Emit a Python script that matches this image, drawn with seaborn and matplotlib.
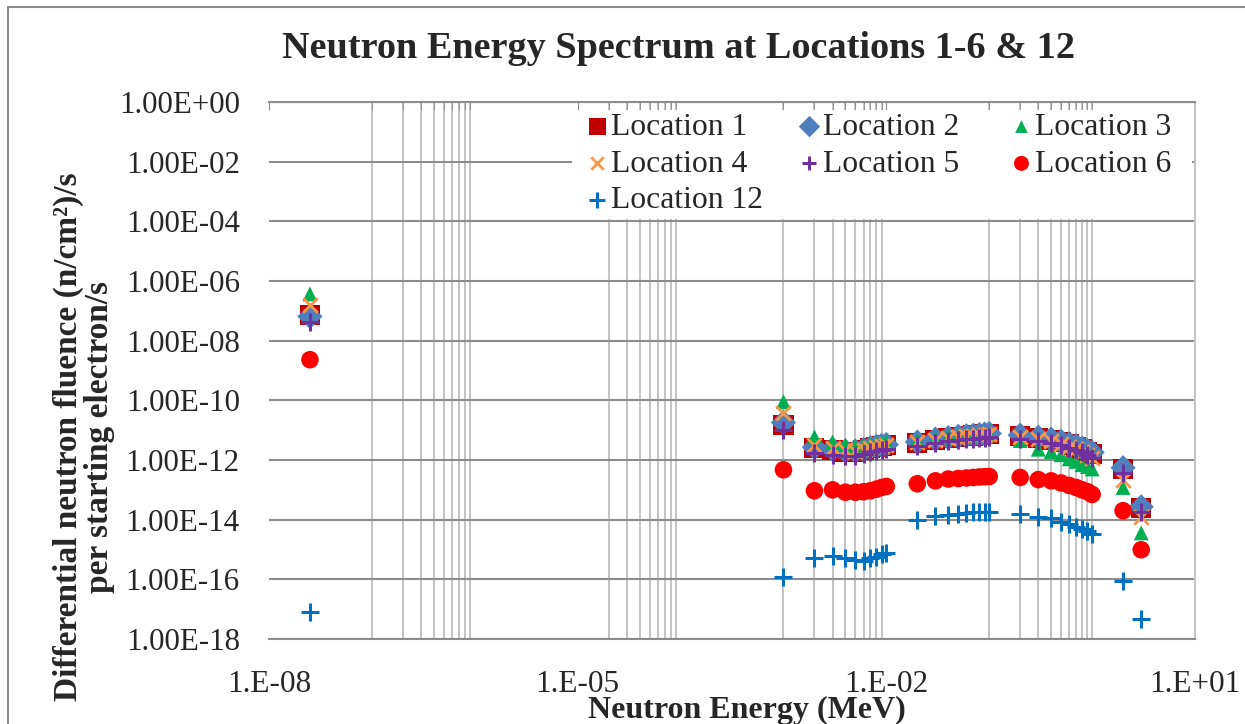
import matplotlib
matplotlib.use("Agg")
import matplotlib.pyplot as plt
import numpy as np
import pandas as pd
import seaborn as sns
from matplotlib.ticker import FixedLocator, FuncFormatter, NullLocator
from matplotlib.patches import Rectangle

# ---------------- data ----------------
energy_mev = [2.5e-8,
              1e-3, 2e-3, 3e-3, 4e-3, 5e-3, 6e-3, 7e-3, 8e-3, 9e-3, 1e-2,
              2e-2, 3e-2, 4e-2, 5e-2, 6e-2, 7e-2, 8e-2, 9e-2, 1e-1,
              2e-1, 3e-1, 4e-1, 5e-1, 6e-1, 7e-1, 8e-1, 9e-1, 1.0,
              2.0, 3.0]

location_1 = [7.2e-8,
              1.5e-11, 2.6e-12, 2.2e-12, 1.9e-12, 1.9e-12, 2.2e-12, 2.5e-12, 2.8e-12, 3.0e-12, 3.2e-12,
              3.8e-12, 4.8e-12, 5.5e-12, 6.0e-12, 6.3e-12, 6.6e-12, 7.0e-12, 7.2e-12, 7.5e-12,
              6.5e-12, 5.6e-12, 4.8e-12, 4.0e-12, 3.3e-12, 2.8e-12, 2.3e-12, 1.9e-12, 1.6e-12,
              5.0e-13, 2.5e-14]
location_2 = [6.5e-8,
              1.8e-11, 2.7e-12, 2.3e-12, 2.0e-12, 2.0e-12, 2.2e-12, 2.6e-12, 2.9e-12, 3.1e-12, 3.3e-12,
              4.0e-12, 5.0e-12, 5.6e-12, 6.2e-12, 6.5e-12, 6.8e-12, 7.1e-12, 7.4e-12, 7.7e-12,
              6.8e-12, 5.8e-12, 5.0e-12, 4.2e-12, 3.5e-12, 3.0e-12, 2.5e-12, 2.1e-12, 1.8e-12,
              5.5e-13, 2.7e-14]
location_3 = [3.7e-7,
              9.0e-11, 6.0e-12, 4.0e-12, 3.2e-12, 2.8e-12, 3.0e-12, 3.3e-12, 3.5e-12, 3.8e-12, 4.0e-12,
              4.5e-12, 5.3e-12, 5.8e-12, 6.2e-12, 6.4e-12, 6.6e-12, 6.8e-12, 7.0e-12, 7.2e-12,
              4.5e-12, 2.3e-12, 1.9e-12, 1.5e-12, 1.1e-12, 9.0e-13, 7.0e-13, 6.0e-13, 5.0e-13,
              1.2e-13, 3.6e-15]
location_4 = [1.6e-7,
              3.8e-11, 3.1e-12, 2.5e-12, 2.1e-12, 2.0e-12, 2.2e-12, 2.5e-12, 2.8e-12, 3.0e-12, 3.2e-12,
              3.9e-12, 4.8e-12, 5.4e-12, 5.9e-12, 6.2e-12, 6.5e-12, 6.8e-12, 7.0e-12, 7.3e-12,
              6.0e-12, 5.0e-12, 4.2e-12, 3.4e-12, 2.8e-12, 2.3e-12, 1.9e-12, 1.5e-12, 1.2e-12,
              2.2e-13, 1.2e-14]
location_5 = [4.3e-8,
              1.0e-11, 1.7e-12, 1.5e-12, 1.4e-12, 1.4e-12, 1.6e-12, 1.8e-12, 2.0e-12, 2.2e-12, 2.4e-12,
              3.0e-12, 3.7e-12, 4.2e-12, 4.6e-12, 4.9e-12, 5.1e-12, 5.4e-12, 5.6e-12, 5.8e-12,
              5.2e-12, 4.5e-12, 3.8e-12, 3.2e-12, 2.6e-12, 2.2e-12, 1.8e-12, 1.5e-12, 1.2e-12,
              3.7e-13, 1.8e-14]
location_6 = [2.3e-9,
              4.7e-13, 9.3e-14, 1.0e-13, 8.3e-14, 8.3e-14, 8.6e-14, 9.3e-14, 1.05e-13, 1.2e-13, 1.3e-13,
              1.6e-13, 2.0e-13, 2.3e-13, 2.4e-13, 2.5e-13, 2.6e-13, 2.7e-13, 2.75e-13, 2.8e-13,
              2.6e-13, 2.2e-13, 2.0e-13, 1.7e-13, 1.4e-13, 1.2e-13, 1.0e-13, 8.7e-14, 7.0e-14,
              2.0e-14, 9.8e-16]
location_12 = [8.0e-18,
               1.2e-16, 5.3e-16, 6.2e-16, 5.3e-16, 4.5e-16, 4.2e-16, 5.0e-16, 5.7e-16, 7.0e-16, 7.6e-16,
               1.0e-14, 1.35e-14, 1.4e-14, 1.6e-14, 1.7e-14, 1.75e-14, 1.8e-14, 1.8e-14, 1.85e-14,
               1.6e-14, 1.25e-14, 1.1e-14, 8.5e-15, 7.0e-15, 5.6e-15, 4.8e-15, 4.2e-15, 3.4e-15,
               9.0e-17, 4.8e-18]

series_names = ["Location 1", "Location 2", "Location 3", "Location 4",
                "Location 5", "Location 6", "Location 12"]
series_values = [location_1, location_2, location_3, location_4,
                 location_5, location_6, location_12]

x_major_ticks = [1e-8, 1e-5, 1e-2, 1e1]
y_major_ticks = [1e-18, 1e-16, 1e-14, 1e-12, 1e-10, 1e-8, 1e-6, 1e-4, 1e-2, 1e0]

title = "Neutron Energy Spectrum at Locations 1-6 & 12"
x_label = "Neutron Energy (MeV)"
y_label = "Differential neutron fluence (n/cm\u00b2)/s\nper starting electron/s"

# ---------------- styles ----------------
styles = {
    "Location 1": dict(marker="s", color="#C00000", s=210, lw=0),
    "Location 2": dict(marker="D", color="#4F7FBC", s=165, lw=0),
    "Location 3": dict(marker="^", color="#00B050", s=115, lw=0),
    "Location 4": dict(marker="x", color="#F79646", s=110, lw=2.0),
    "Location 5": dict(marker="+", color="#7030A0", s=150, lw=2.2),
    "Location 6": dict(marker="o", color="#FF0000", s=160, lw=0),
    "Location 12": dict(marker="+", color="#0070C0", s=180, lw=2.2),
}

sns.set_style("white")
plt.rcParams["font.family"] = ["Liberation Serif", "DejaVu Serif"]

W, H = 1245, 724
fig = plt.figure(figsize=(W / 100, H / 100), dpi=100)
L, R, T, B = 269, 1195, 102, 639
ax = fig.add_axes([L / W, 1 - B / H, (R - L) / W, (B - T) / H])

for name, vals in zip(series_names, series_values):
    st = styles[name]
    df = pd.DataFrame({"energy": energy_mev, "value": vals})
    if st["marker"] in ("+", "x"):
        sns.scatterplot(data=df, x="energy", y="value", ax=ax, marker=st["marker"],
                        color=st["color"], s=st["s"], linewidth=st["lw"],
                        label=name, zorder=3)
    else:
        sns.scatterplot(data=df, x="energy", y="value", ax=ax, marker=st["marker"],
                        color=st["color"], s=st["s"], edgecolor="none", linewidth=0,
                        label=name, zorder=3)

ax.set_xscale("log")
ax.set_yscale("log")
ax.set_xlim(1e-8, 1e1)
ax.set_ylim(1e-18, 1e0)

# gridline positions (Excel-like minor lines)
x_grid = [k * 10.0 ** e for e in (-7, -5, -3, -1) for k in range(1, 10)] + [1.0]
ax.xaxis.set_major_locator(FixedLocator(x_major_ticks))
ax.xaxis.set_minor_locator(FixedLocator(x_grid))
ax.xaxis.set_major_formatter(FuncFormatter(lambda v, p: f"{v:#.0E}"))
ax.xaxis.set_minor_formatter(FuncFormatter(lambda v, p: ""))
ax.yaxis.set_major_locator(FixedLocator(y_major_ticks))
ax.yaxis.set_minor_locator(NullLocator())
ax.yaxis.set_major_formatter(FuncFormatter(lambda v, p: f"{v:.2E}"))

ax.set_axisbelow(True)
ax.yaxis.grid(True, which="major", color="#8C8C8C", lw=1.5)
ax.xaxis.grid(False, which="major")
ax.xaxis.grid(True, which="minor", color="#C4C4C4", lw=1.4)

ax.spines["left"].set_visible(False)
ax.spines["top"].set_color("#8C8C8C")
ax.spines["top"].set_linewidth(1.5)
ax.spines["bottom"].set_color("#8C8C8C")
ax.spines["bottom"].set_linewidth(1.5)
ax.spines["right"].set_color("#C4C4C4")
ax.spines["right"].set_linewidth(1.4)

ax.tick_params(axis="x", which="both", top=True, bottom=False, direction="in",
               length=6, color="#8C8C8C", labelbottom=True, labeltop=False,
               labelsize=22.5, pad=22.5)
ax.tick_params(axis="y", which="both", left=False, right=False, length=0,
               labelsize=22.3, pad=21)
ax.set_xlabel("")
ax.set_ylabel("")

# legend: white box behind, three columns placed like the reference (row-wise order)
handles, labels = ax.get_legend_handles_labels()
if ax.get_legend() is not None:
    ax.get_legend().remove()
fig.patches.append(Rectangle((572 / W, 1 - 219 / H), (1192 - 572) / W, (219 - 110) / H,
                             transform=fig.transFigure, facecolor="white",
                             edgecolor="none", zorder=1))
columns = [[0, 3, 6], [1, 4], [2, 5]]
col_x = [584, 796, 1008]
for idx, cx in zip(columns, col_x):
    lg = fig.legend([handles[i] for i in idx], [labels[i] for i in idx],
                    loc="upper left", bbox_to_anchor=(cx / W, 1 - 108 / H),
                    ncol=1, fontsize=22.8, frameon=False,
                    handlelength=0.55, handletextpad=0.15,
                    labelspacing=0.24, borderpad=0.15, borderaxespad=0,
                    markerscale=0.85)
    lg.set_zorder(5)

fig.text(678 / W, 1 - 48 / H, title, ha="center", va="center",
         fontsize=27.5, fontweight="bold")
fig.text(747 / W, 1 - 710 / H, x_label, ha="center", va="center",
         fontsize=23, fontweight="bold")
fig.text(84 / W, 1 - 437 / H, y_label, ha="center", va="center", rotation=90,
         fontsize=24, fontweight="bold", multialignment="center", linespacing=1.02)

fig.patches.append(Rectangle((8 / W, -0.1), 1.2, 1.1 - 7 / H, transform=fig.transFigure,
                             fill=False, edgecolor="#8C8C8C", lw=1.5, zorder=0))

fig.savefig("out.png", dpi=100)
